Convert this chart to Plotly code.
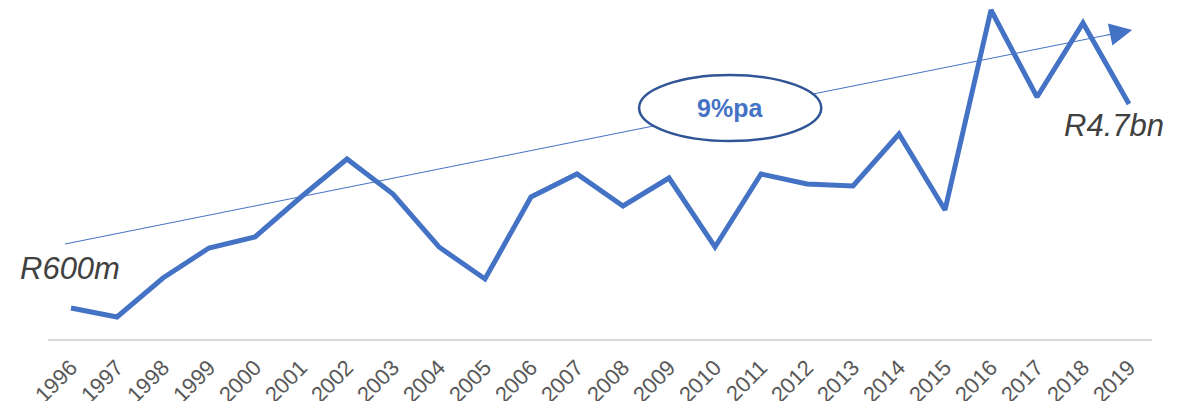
import plotly.graph_objects as go

# yearly values, R millions
years = list(range(1996, 2020))
values = [620, 440, 1220, 1820, 2040, 2840, 3600, 2900, 1840, 1200,
          2840, 3300, 2660, 3220, 1840, 3300, 3100, 3060, 4100, 2580,
          6580, 4840, 6320, 4700]

blue = "#4472C4"
grey_text = "#404040"

fig = go.Figure()
fig.add_trace(go.Scatter(x=years, y=values, mode="lines",
                         line=dict(color=blue, width=5), hoverinfo="skip"))

# trend line (under the data) with arrow head at the end
fig.add_shape(type="line", xref="x", yref="y", x0=1995.87, y0=1900, x1=2018.8, y1=6130,
              line=dict(color=blue, width=1), layer="below")
fig.add_annotation(x=2019.07, y=6180, ax=2018.5, ay=6075,
                   xref="x", yref="y", axref="x", ayref="y",
                   text="", showarrow=True, arrowhead=2, arrowsize=4.5,
                   arrowwidth=1, arrowcolor=blue, standoff=0)

# growth-rate bubble
fig.add_shape(type="circle", xref="x", yref="y",
              x0=2008.35, x1=2012.31, y0=3960, y1=5280,
              fillcolor="white", line=dict(color="#2F5597", width=2.5), layer="above")
fig.add_annotation(x=2010.33, y=4620, xref="x", yref="y", text="<b>9%pa</b>",
                   showarrow=False, font=dict(family="Liberation Sans", size=25, color=blue))

fig.add_annotation(x=1995.98, y=1420, xref="x", yref="y", text="<i>R600m</i>",
                   showarrow=False, font=dict(family="Liberation Sans", size=31, color=grey_text))
fig.add_annotation(x=2018.68, y=4280, xref="x", yref="y", text="<i>R4.7bn</i>",
                   showarrow=False, font=dict(family="Liberation Sans", size=31, color=grey_text))

fig.update_layout(
    width=1191, height=401,
    margin=dict(l=48, r=39, t=5, b=62, autoexpand=False),
    paper_bgcolor="white", plot_bgcolor="white",
    showlegend=False,
    font=dict(family="Liberation Sans"),
)
fig.update_xaxes(range=[1995.5, 2019.5], tickvals=years, ticktext=[str(y) for y in years],
                 tickangle=-45, tickfont=dict(size=22, color="#595959"),
                 showgrid=False, zeroline=False, showline=True, automargin=False,
                 linecolor="#D9D9D9", linewidth=2, ticks="", ticklabelstandoff=5)
fig.update_yaxes(range=[0, 6680], visible=False, showgrid=False, zeroline=False, automargin=False)

fig.write_html("out.html", config={"displayModeBar": False},
               post_script="document.body.style.margin='0';document.body.style.overflow='hidden';")
